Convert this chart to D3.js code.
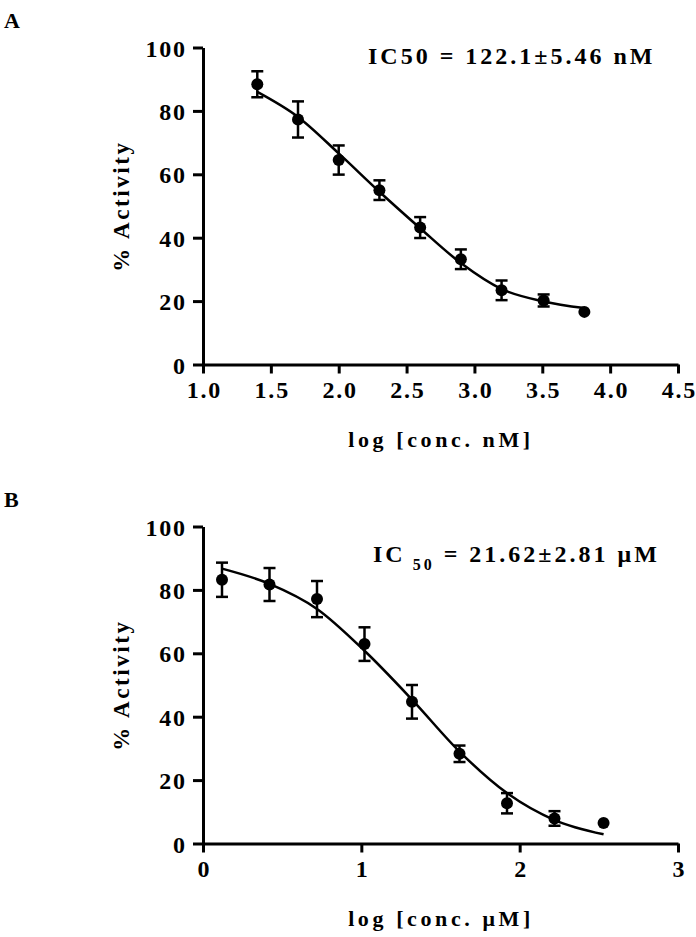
<!DOCTYPE html>
<html>
<head>
<meta charset="utf-8">
<script src="https://cdn.jsdelivr.net/npm/d3@7"></script>
<style>
  body { margin: 0; background: #fff; }
  svg text { font-family: "Liberation Serif", "DejaVu Serif", "Times New Roman", Times, serif; font-weight: bold; fill: #000; }
</style>
</head>
<body>
<div id="chart"></div>
<script>
// panel A - nM
const aLogConc = [1.40, 1.70, 2.00, 2.30, 2.60, 2.90, 3.20, 3.51, 3.81];
const aActivity = [88.4, 77.3, 64.5, 55.0, 43.2, 33.2, 23.4, 20.2, 16.6];
const aSem = [4.1, 5.7, 4.6, 3.1, 3.3, 3.1, 3.1, 1.9, 0];
const aFitX = [1.40, 1.70, 2.00, 2.30, 2.60, 2.90, 3.20, 3.51, 3.81];
const aFitY = [86.0, 78.1, 66.6, 54.5, 43.0, 32.0, 23.8, 19.9, 17.8];
const aXTicks = [1.0, 1.5, 2.0, 2.5, 3.0, 3.5, 4.0, 4.5];

// panel B - uM
const bLogConc = [0.12, 0.42, 0.72, 1.02, 1.32, 1.62, 1.92, 2.22, 2.53];
const bActivity = [83.2, 81.7, 77.1, 62.9, 44.7, 28.3, 12.7, 7.9, 6.5];
const bSem = [5.4, 5.2, 5.7, 5.3, 5.3, 2.6, 3.2, 2.3, 0];
const bFitX = [0.12, 0.42, 0.72, 1.02, 1.32, 1.62, 1.92, 2.22, 2.53];
const bFitY = [86.7, 81.9, 74.0, 60.8, 45.4, 29.0, 15.9, 7.4, 2.9];
const bXTicks = [0, 1, 2, 3];

const yTicks = [0, 20, 40, 60, 80, 100];

const FONT = '"Liberation Serif", "DejaVu Serif", "Times New Roman", Times, serif';

const svg = d3.select("#chart").append("svg")
    .attr("width", 696)
    .attr("height", 937);

function drawPanel(p) {
    const x = d3.scaleLinear().domain(p.xDomain).range([203, 678]);
    const y = d3.scaleLinear().domain([0, 100]).range([p.bottom, p.bottom - 317]);
    const g = svg.append("g");

    // panel letter
    g.append("text")
        .attr("x", 4)
        .attr("y", p.bottom - 337)
        .style("font-size", "22px")
        .text(p.letter);

    // axes
    const yAxis = g.append("g")
        .attr("transform", `translate(${x(p.xDomain[0])},0)`)
        .call(d3.axisLeft(y).tickValues(yTicks).tickSize(10).tickSizeOuter(0).tickPadding(8));
    const xAxis = g.append("g")
        .attr("transform", `translate(0,${y(0)})`)
        .call(d3.axisBottom(x).tickValues(p.xTicks).tickSize(9).tickSizeOuter(0).tickPadding(24)
            .tickFormat(p.tickFormat));
    [yAxis, xAxis].forEach(ax => {
        ax.attr("font-family", FONT);
        ax.select(".domain").attr("stroke", "#000").attr("stroke-width", 3);
        ax.selectAll(".tick line").attr("stroke", "#000").attr("stroke-width", 3);
        ax.selectAll(".tick text")
            .attr("fill", "#000")
            .style("font-family", FONT)
            .style("font-weight", "bold")
            .style("font-size", "24px")
            .style("letter-spacing", "1.8px");
    });
    yAxis.selectAll(".tick text").attr("dy", "0.36em").attr("dx", 1.8);
    xAxis.selectAll(".tick text").attr("dy", 0).attr("dx", 0.9);

    // axis titles
    g.append("text")
        .attr("transform", `translate(129,${y(50)}) rotate(-90)`)
        .attr("text-anchor", "middle")
        .style("font-size", "23px")
        .style("letter-spacing", "2.6px")
        .text("% Activity");
    g.append("text")
        .attr("x", 441)
        .attr("y", p.bottom + 82)
        .attr("text-anchor", "middle")
        .style("font-size", "22px")
        .style("letter-spacing", "3.6px")
        .text(p.xTitle);

    // IC50 note
    const note = g.append("text")
        .attr("x", p.noteX)
        .attr("y", p.bottom + p.noteDy)
        .style("font-size", "24px")
        .style("letter-spacing", "3px");
    p.note(note);

    // fitted curve
    const line = d3.line()
        .x(d => x(d[0]))
        .y(d => y(d[1]))
        .curve(d3.curveMonotoneX);
    g.append("path")
        .datum(d3.zip(p.fitX, p.fitY))
        .attr("d", line)
        .attr("fill", "none")
        .attr("stroke", "#000")
        .attr("stroke-width", 2.5);

    // error bars
    const pts = p.xs.map((v, i) => ({ x: v, y: p.ys[i], e: p.sem[i] }));
    const eb = g.selectAll(".eb").data(pts.filter(d => d.e > 0)).enter().append("g")
        .attr("stroke", "#000").attr("stroke-width", 2.5);
    eb.append("line")
        .attr("x1", d => x(d.x)).attr("x2", d => x(d.x))
        .attr("y1", d => y(d.y + d.e)).attr("y2", d => y(d.y - d.e));
    eb.append("line")
        .attr("x1", d => x(d.x) - 6).attr("x2", d => x(d.x) + 6)
        .attr("y1", d => y(d.y + d.e)).attr("y2", d => y(d.y + d.e));
    eb.append("line")
        .attr("x1", d => x(d.x) - 6).attr("x2", d => x(d.x) + 6)
        .attr("y1", d => y(d.y - d.e)).attr("y2", d => y(d.y - d.e));

    // points
    g.selectAll(".pt").data(pts).enter().append("circle")
        .attr("cx", d => x(d.x))
        .attr("cy", d => y(d.y))
        .attr("r", 6)
        .attr("fill", "#000");
}

drawPanel({
    letter: "A",
    bottom: 364.5,
    xDomain: [1.0, 4.5],
    xTicks: aXTicks,
    tickFormat: d3.format(".1f"),
    xTitle: "log [conc. nM]",
    noteX: 368,
    noteDy: -300.5,
    note: t => t.text("IC50 = 122.1±5.46 nM"),
    xs: aLogConc, ys: aActivity, sem: aSem,
    fitX: aFitX, fitY: aFitY
});

drawPanel({
    letter: "B",
    bottom: 843.5,
    xDomain: [0, 3],
    xTicks: bXTicks,
    tickFormat: d3.format("d"),
    xTitle: "log [conc. μM]",
    noteX: 373,
    noteDy: -281.5,
    note: t => {
        t.append("tspan").text("IC");
        t.append("tspan").attr("dy", 8).style("font-size", "16px").text(" 50");
        t.append("tspan").attr("dy", -8).text(" = 21.62±2.81 μM");
    },
    xs: bLogConc, ys: bActivity, sem: bSem,
    fitX: bFitX, fitY: bFitY
});
</script>
</body>
</html>
